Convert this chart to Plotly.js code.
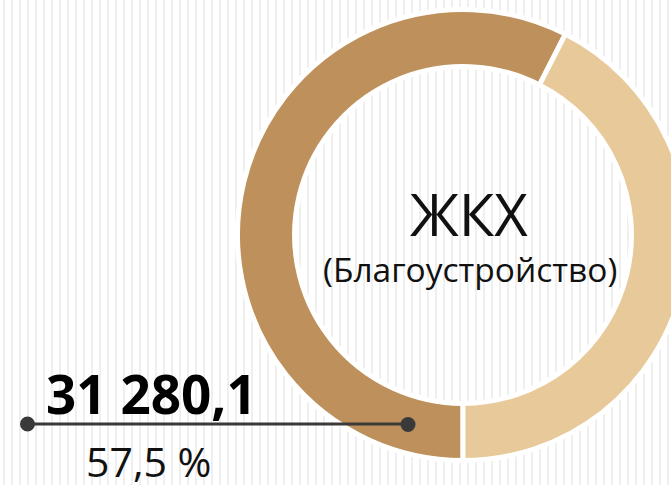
<!DOCTYPE html>
<html>
<head>
<meta charset="utf-8">
<script src="https://cdn.plot.ly/plotly-3.0.1.min.js"></script>
<style>
  html, body { margin:0; padding:0; width:671px; height:485px; overflow:hidden;
    background: repeating-linear-gradient(90deg, #ffffff 0px, #ffffff 3px, #efefef 3px, #efefef 5px, #ffffff 5px, #ffffff 8px); }
  #chart { width:926px; height:485px; }
</style>
</head>
<body>
<div id="chart"></div>
<script>
const categories = ["ЖКХ (Благоустройство)", "Прочее"];
const shares = [57.5, 42.5];
const colors = ["#BE915C", "#E8C99A"];
const centerTitle = "ЖКХ";
const centerSubtitle = "(Благоустройство)";
const valueLabel = "31 280,1";
const shareLabel = "57,5 %";

const FONT = "'Open Sans', 'Noto Sans', sans-serif";

const data = [{
  type: "pie",
  labels: categories,
  values: shares,
  sort: false,
  direction: "clockwise",
  rotation: 180,
  hole: 0.747,
  textinfo: "none",
  hoverinfo: "none",
  showlegend: false,
  marker: { colors: colors, line: { color: "#ffffff", width: 5 } },
  domain: { x: [0, 1], y: [(250 - 225.5) / 485, (250 + 225.5) / 485] }
}];

const layout = {
  width: 926, height: 485,
  margin: { l: 0, r: 0, t: 0, b: 0 },
  paper_bgcolor: "rgba(0,0,0,0)",
  plot_bgcolor: "rgba(0,0,0,0)",
  xaxis: { range: [0, 926], visible: false, fixedrange: true },
  yaxis: { range: [485, 0], visible: false, fixedrange: true },
  shapes: [
    { type: "line", xref: "x", yref: "y", x0: 27, x1: 408, y0: 424, y1: 424,
      line: { color: "#3a3a3a", width: 3 }, layer: "above" },
    { type: "circle", xref: "x", yref: "y", x0: 20, x1: 35, y0: 416.5, y1: 431.5,
      fillcolor: "#3a3a3a", line: { width: 0 }, layer: "above" },
    { type: "circle", xref: "x", yref: "y", x0: 400.5, x1: 415.5, y0: 417, y1: 432,
      fillcolor: "#3a3a3a", line: { width: 0 }, layer: "above" }
  ],
  annotations: [
    { text: centerTitle, x: 469, y: 213, xref: "x", yref: "y", showarrow: false,
      xanchor: "center", yanchor: "middle",
      font: { family: FONT, size: 58, color: "#111111", weight: 400 } },
    { text: centerSubtitle, x: 470, y: 269, xref: "x", yref: "y", showarrow: false,
      xanchor: "center", yanchor: "middle",
      font: { family: FONT, size: 33.5, color: "#111111", weight: 400 } },
    { text: valueLabel, x: 44, y: 393, xref: "x", yref: "y", showarrow: false,
      xanchor: "left", yanchor: "middle",
      font: { family: FONT, size: 53, color: "#000000", weight: 700 } },
    { text: shareLabel, x: 148, y: 461, xref: "x", yref: "y", showarrow: false,
      xanchor: "center", yanchor: "middle",
      font: { family: FONT, size: 41, color: "#111111", weight: 400 } }
  ]
};

Plotly.newPlot("chart", data, layout, { displayModeBar: false, staticPlot: true });
</script>
</body>
</html>
